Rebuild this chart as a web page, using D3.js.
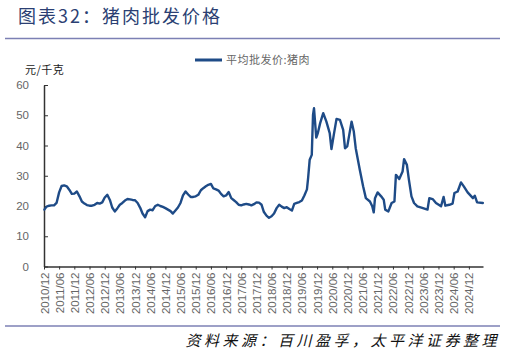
<!DOCTYPE html>
<html><head><meta charset="utf-8">
<script src="https://cdn.jsdelivr.net/npm/d3@7"></script>
<style>
html,body{margin:0;padding:0;background:#fff;}
svg{display:block;}
</style></head>
<body>
<svg id="chart" width="507" height="355"></svg>
<script>
const titleText = "图表32：猪肉批发价格";
const unitText = "元/千克";
const seriesName = "平均批发价:猪肉";
const sourceText = "资料来源：百川盈孚，太平洋证券整理";

const dates = [
"2010-12-05","2011-01-01","2011-02-01","2011-03-01","2011-04-01","2011-05-01","2011-06-01","2011-07-01","2011-08-01","2011-09-01","2011-10-01","2011-11-01","2011-12-01",
"2012-01-01","2012-02-01","2012-03-01","2012-04-01","2012-05-01","2012-06-01","2012-07-01","2012-08-01","2012-09-01","2012-10-01","2012-11-01","2012-12-01",
"2013-01-01","2013-02-01","2013-03-01","2013-04-01","2013-05-01","2013-06-01","2013-07-01","2013-08-01","2013-09-01","2013-10-01","2013-11-01","2013-12-01",
"2014-01-01","2014-02-01","2014-03-01","2014-04-01","2014-05-01","2014-06-01","2014-07-01","2014-08-01","2014-09-01","2014-10-01","2014-11-01","2014-12-01",
"2015-01-01","2015-02-01","2015-03-01","2015-04-01","2015-05-01","2015-06-01","2015-07-01","2015-08-01","2015-09-01","2015-10-01","2015-11-01","2015-12-01",
"2016-01-01","2016-02-01","2016-03-01","2016-04-01","2016-05-01","2016-06-01","2016-07-01","2016-08-01","2016-09-01","2016-10-01","2016-11-01","2016-12-01",
"2017-01-01","2017-02-01","2017-03-01","2017-04-01","2017-05-01","2017-06-01","2017-07-01","2017-08-01","2017-09-01","2017-10-01","2017-11-01","2017-12-01",
"2018-01-01","2018-02-01","2018-03-01","2018-04-01","2018-05-01","2018-06-01","2018-07-01","2018-08-01","2018-09-01","2018-10-01","2018-11-01","2018-12-01",
"2019-01-01","2019-02-01","2019-03-01","2019-04-01","2019-05-01","2019-06-01","2019-07-01","2019-08-01","2019-08-15","2019-09-03","2019-09-28","2019-10-13","2019-10-25","2019-11-21","2019-12-10",
"2020-01-07","2020-02-13","2020-03-22","2020-05-01","2020-05-22","2020-06-19","2020-07-22","2020-09-01","2020-10-10","2020-11-01","2020-11-28",
"2021-01-19","2021-02-15","2021-03-10","2021-04-28","2021-06-07","2021-07-10","2021-08-28","2021-09-25","2021-10-13","2021-10-28","2021-11-28",
"2022-01-10","2022-02-10","2022-02-28","2022-04-07","2022-05-16","2022-06-19","2022-07-07","2022-08-16","2022-09-25","2022-10-13","2022-11-16","2022-12-10",
"2023-01-10","2023-02-10","2023-03-22","2023-05-19","2023-07-22","2023-08-13","2023-09-22","2023-11-01",
"2024-01-01","2024-02-01","2024-02-22","2024-04-10","2024-05-19","2024-06-10","2024-07-19","2024-08-28","2024-10-01","2024-11-16",
"2025-01-19","2025-02-10","2025-03-10","2025-05-19"
];
const prices = [
18.8,19.8,20.1,20.2,20.2,21.0,24.5,26.6,26.8,26.5,25.4,24.0,24.1,
24.8,23.2,21.5,20.8,20.3,20.1,20.1,20.4,21.0,20.8,21.2,22.8,
23.7,22.0,19.5,18.2,19.2,20.4,21.0,21.8,22.3,22.2,22.0,21.9,
21.0,19.4,17.5,16.3,18.3,18.8,18.6,20.0,20.4,20.0,19.7,19.3,
18.8,18.3,17.5,18.5,19.5,21.0,23.5,24.8,23.8,23.0,23.0,23.2,
23.7,25.2,25.9,26.5,27.0,27.3,25.8,25.5,25.1,24.0,23.2,23.5,
24.6,22.6,22.0,21.3,20.4,20.2,20.5,20.7,20.5,20.2,20.6,21.2,
21.1,20.4,18.0,16.8,16.1,16.6,17.5,19.3,20.4,19.8,19.3,19.6,
19.0,18.5,20.7,21.0,21.3,21.8,23.5,25.5,29.2,35.3,36.9,50.1,52.3,42.6,44.1,
47.4,50.7,47.9,44.1,38.8,43.5,48.8,48.5,45.2,39.1,39.7,
47.9,44.6,39.1,32.0,26.5,22.6,21.5,19.9,17.9,22.6,24.5,
23.2,22.1,18.8,18.2,21.0,21.5,30.3,28.9,31.4,35.5,33.6,28.7,
23.2,21.0,19.9,19.4,18.8,22.6,22.3,21.0,
19.9,23.0,20.1,20.4,20.8,24.3,24.8,27.8,26.5,24.5,
22.6,23.4,21.2,21.0
];
const xTickLabels = ["2010/12","2011/06","2011/12","2012/06","2012/12","2013/06","2013/12","2014/06","2014/12","2015/06","2015/12","2016/06","2016/12","2017/06","2017/12","2018/06","2018/12","2019/06","2019/12","2020/06","2020/12","2021/06","2021/12","2022/06","2022/12","2023/06","2023/12","2024/06","2024/12"];
const yTicks = [0,10,20,30,40,50,60];
const xDomain = ["2010-12-01","2025-05-20"];

const svg = d3.select("#chart");
const parseD = d3.timeParse("%Y-%m-%d");
const parseT = d3.timeParse("%Y/%m");
const data = dates.map((d,i)=>({date:parseD(d), v:prices[i]}));

const x = d3.scaleTime().domain(xDomain.map(parseD)).range([44,483]);
const y = d3.scaleLinear().domain([0,60]).range([266.5,85]);

const cjk = "'Noto Sans CJK SC','Noto Sans',sans-serif";
const latin = "'Liberation Sans',Arial,sans-serif";

// title
svg.append("text").attr("x",18).attr("y",23)
  .attr("font-family",cjk).attr("font-size",18).attr("letter-spacing","2px")
  .attr("fill","#2b3f73").text(titleText);
svg.append("line").attr("x1",5).attr("x2",500).attr("y1",38.5).attr("y2",38.5)
  .attr("stroke","#7c80b4").attr("stroke-width",1.5);

// legend
svg.append("line").attr("x1",195).attr("x2",222).attr("y1",60).attr("y2",60)
  .attr("stroke","#1e4b87").attr("stroke-width",3);
svg.append("text").attr("x",226).attr("y",64)
  .attr("font-family",cjk).attr("font-size",11).attr("letter-spacing","0.5px")
  .attr("fill","#666").text(seriesName);

// unit
svg.append("text").attr("x",25).attr("y",74)
  .attr("font-family",cjk).attr("font-size",11).attr("letter-spacing","0.5px")
  .attr("fill","#222").text(unitText);

// y axis
const yAxis = d3.axisLeft(y).tickValues(yTicks).tickSizeInner(-4).tickSizeOuter(0).tickPadding(15);
const gy = svg.append("g").attr("transform","translate(44,0)").call(yAxis);
gy.select(".domain").attr("stroke","#333").attr("stroke-width",1.5);
gy.selectAll(".tick line").attr("stroke","#333").attr("stroke-width",1);
gy.selectAll("text").attr("font-family",latin).attr("font-size",11.5).attr("fill","#666");

// x axis
const xAxis = d3.axisBottom(x).tickValues(xTickLabels.map(parseT)).tickFormat(d3.timeFormat("%Y/%m")).tickSizeInner(3).tickSizeOuter(0);
const gx = svg.append("g").attr("transform","translate(0,266.5)").call(xAxis);
gx.select(".domain").attr("stroke","#333").attr("stroke-width",1.5);
gx.selectAll(".tick line").attr("stroke","#333").attr("stroke-width",1);
gx.selectAll("text").attr("font-family",latin).attr("font-size",11.5).attr("fill","#666")
  .attr("text-anchor","end").attr("transform","rotate(-90)")
  .attr("x",-6).attr("y",0).attr("dy","0.35em");

// line
const line = d3.line().x(d=>x(d.date)).y(d=>y(d.v)).curve(d3.curveLinear);
svg.append("path").datum(data).attr("d",line)
  .attr("fill","none").attr("stroke","#1e4b87").attr("stroke-width",2.4)
  .attr("stroke-linejoin","round").attr("stroke-linecap","round");

// bottom rule and source
svg.append("line").attr("x1",5).attr("x2",500).attr("y1",326).attr("y2",326)
  .attr("stroke","#7c80b4").attr("stroke-width",1.5);
svg.append("text").attr("x",500).attr("y",346).attr("text-anchor","end")
  .attr("font-family",cjk).attr("font-size",15).attr("font-style","italic")
  .attr("letter-spacing","3.5px").attr("fill","#111").text(sourceText);
</script>
</body></html>
